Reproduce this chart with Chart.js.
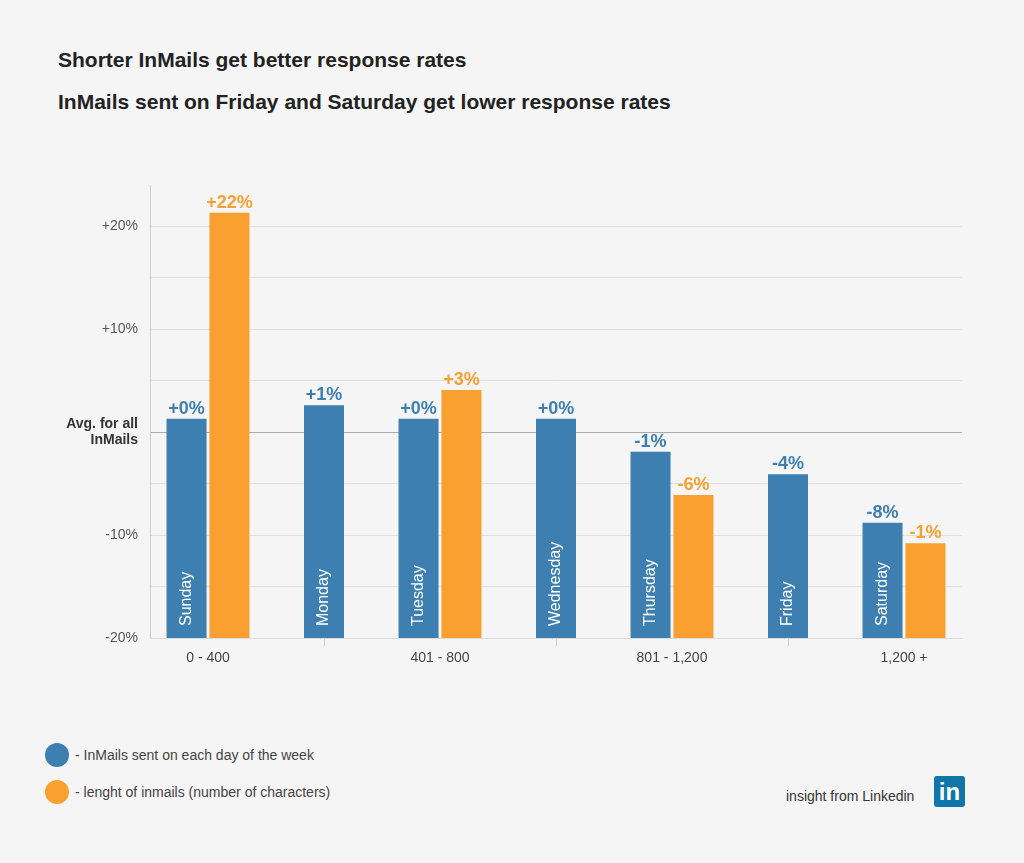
<!DOCTYPE html>
<html>
<head>
<meta charset="utf-8">
<script src="https://cdn.jsdelivr.net/npm/chart.js@4"></script>
<style>
  body { margin: 0; background: #f5f5f5; font-family: "Liberation Sans", Arial, sans-serif; }
  #wrap { position: relative; width: 1024px; height: 863px; }
  h1 { position: absolute; left: 58px; margin: 0; font-size: 21px; font-weight: bold; color: #222; }
  .legend { position: absolute; left: 45px; font-size: 14px; color: #444; display: flex; align-items: center; }
  .dot { width: 24px; height: 24px; border-radius: 50%; margin-right: 6px; }
  #brand { position: absolute; left: 786px; top: 788px; font-size: 14px; color: #333; }
  #logo { position: absolute; left: 934px; top: 776px; width: 31px; height: 31px; background: #0e76a8; border-radius: 3px; color: #fff; font: bold 24px "Liberation Sans", Arial; text-align: center; line-height: 32px; }
  canvas { position: absolute; left: 0; top: 0; }
</style>
</head>
<body>
<div id="wrap">
  <h1 style="top:48px">Shorter InMails get better response rates</h1>
  <h1 style="top:90px">InMails sent on Friday and Saturday get lower response rates</h1>
  <div style="position:absolute;left:0;top:0;width:1024px;height:680px"><canvas id="c"></canvas></div>
  <div class="legend" style="top:743px"><div class="dot" style="background:#3d7fb0"></div>- InMails sent on each day of the week</div>
  <div class="legend" style="top:780px"><div class="dot" style="background:#f9a030"></div>- lenght of inmails (number of characters)</div>
  <div id="brand">insight from Linkedin</div>
  <div id="logo">in</div>
</div>
<script>
// categories and values
const groupLabels = ['0 - 400', '', '401 - 800', '', '801 - 1,200', '', '1,200 +'];
const days = ['Sunday', 'Monday', 'Tuesday', 'Wednesday', 'Thursday', 'Friday', 'Saturday'];
const dayValues = [1.3, 2.6, 1.3, 1.3, -1.9, -4.1, -8.8];
const dayText = ['+0%', '+1%', '+0%', '+0%', '-1%', '-4%', '-8%'];
const lengthValues = [21.3, null, 4.1, null, -6.1, null, -10.8];
const lengthText = ['+22%', '', '+3%', '', '-6%', '', '-1%'];
const yTickLabels = { 20: '+20%', 10: '+10%', 0: ['Avg. for all', 'InMails'], '-10': '-10%', '-20': '-20%' };

const BLUE = '#3d7fb0', ORANGE = '#f9a030', BASE = -20;
const isZero = c => !!(c && c.tick && c.tick.value === 0);

const labelPlugin = {
  id: 'labels',
  afterDatasetsDraw(chart) {
    const ctx = chart.ctx;
    const ys = chart.scales.y;
    const series = [[dayValues, dayText, BLUE], [lengthValues, lengthText, ORANGE]];
    series.forEach(([vals, texts, color], di) => {
      chart.getDatasetMeta(di).data.forEach((bar, i) => {
        if (vals[i] == null) return;
        const top = ys.getPixelForValue(vals[i]);
        const base = ys.getPixelForValue(BASE);
        ctx.save();
        ctx.fillStyle = color;
        ctx.font = 'bold 18px "Liberation Sans", Arial';
        ctx.textAlign = 'center';
        ctx.textBaseline = 'bottom';
        ctx.fillText(texts[i], bar.x, top - 1);
        if (di === 0) {
          ctx.translate(bar.x, base - 12);
          ctx.rotate(-Math.PI / 2);
          ctx.fillStyle = '#fff';
          ctx.font = '16px "Liberation Sans", Arial';
          ctx.textAlign = 'left';
          ctx.textBaseline = 'middle';
          ctx.fillText(days[i], 0, 0);
        }
        ctx.restore();
      });
    });
  }
};

new Chart(document.getElementById('c'), {
  type: 'bar',
  data: {
    labels: groupLabels,
    datasets: [
      { label: 'days', data: dayValues.map(v => [BASE, v]), backgroundColor: BLUE },
      { label: 'length', data: lengthValues.map(v => v == null ? null : [BASE, v]), backgroundColor: ORANGE }
    ]
  },
  options: {
    responsive: true,
    maintainAspectRatio: false,
    animation: false,
    skipNull: true,
    maxBarThickness: 40,
    categoryPercentage: 0.74,
    barPercentage: 1,
    layout: { padding: { left: 0, right: 62, top: 185, bottom: 0 } },
    plugins: { legend: { display: false }, tooltip: { enabled: false } },
    scales: {
      x: {
        grid: {
          offset: false, drawOnChartArea: false, tickLength: 8,
          color: c => (c.index % 2 === 1 ? '#ccc' : 'rgba(0,0,0,0)')
        },
        border: { color: '#ddd' },
        ticks: { color: '#444', font: { size: 14, family: '"Liberation Sans", Arial' }, padding: 4 },
        afterFit: s => { s.height = 42; }
      },
      y: {
        min: -20, max: 24,
        afterFit: s => { s.width = 150; },
        border: { color: '#ccc' },
        grid: {
          drawTicks: false,
          color: c => isZero(c) ? '#aaa' : '#e0e0e0'
        },
        afterBuildTicks: s => { s.ticks = [-20, -15, -10, -5, 0, 5, 10, 15, 20].map(v => ({ value: v })); },
        ticks: {
          padding: 12,
          color: c => isZero(c) ? '#333' : '#555',
          font: c => ({ size: 14, weight: isZero(c) ? 'bold' : 'normal', family: '"Liberation Sans", Arial' }),
          callback: v => yTickLabels[v] || ''
        }
      }
    }
  },
  plugins: [labelPlugin]
});
</script>
</body>
</html>
